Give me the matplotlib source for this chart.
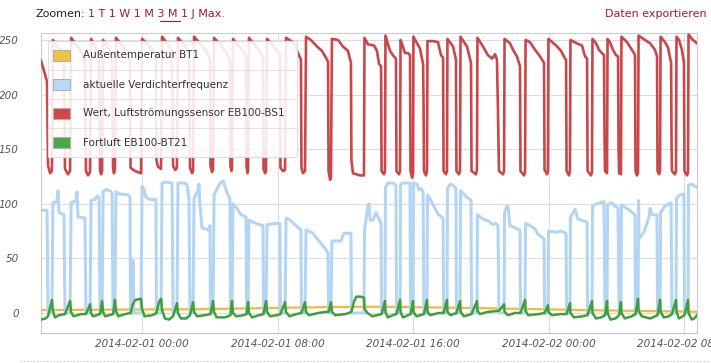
import numpy as np
import matplotlib
matplotlib.use("Agg")
import matplotlib.pyplot as plt
import matplotlib.dates as mdates
from matplotlib.patches import Rectangle
from matplotlib.lines import Line2D

# time axis: hours after 2014-01-31 18:00
START = np.datetime64("2014-01-31T18:00")

labels = ["Außentemperatur BT1", "aktuelle Verdichterfrequenz",
          "Wert, Luftströmungssensor EB100-BS1", "Fortluft EB100-BT21"]
colors = ["#eebc3a", "#b3d5f2", "#c9474a", "#3f9f3f"]
swatch_colors = ["#efc341", "#b9daf6", "#d44646", "#48a848"]

# Außentemperatur (hours, value)
outdoor = [(0.04, 2.7), (9.4, 3.5), (17.1, 5.5), (20.0, 5.8), (26.0, 4.5),
           (31.9, 2.7), (38.76, 1.2)]

# Verdichterfrequenz (hours, value)
compressor = [
    (0.04, 94), (0.39, 94), (0.45, 0), (0.68, 0),
    (0.74, 101), (0.98, 102), (1.04, 112), (1.10, 92), (1.39, 90), (1.45, 0), (1.75, 0),
    (1.81, 101), (2.10, 103), (2.16, 111), (2.22, 88), (2.63, 87), (2.69, 0), (2.93, 0),
    (2.99, 103), (3.22, 104), (3.34, 107), (3.46, 106), (3.52, 0), (3.64, 0),
    (3.70, 111), (3.87, 113), (4.10, 112), (4.23, 110), (4.29, 0), (4.40, 0),
    (4.46, 111), (4.64, 109), (4.76, 109), (5.17, 108), (5.29, 106), (5.32, 0), (5.44, 0),
    (5.47, 48), (5.50, 0), (5.94, 0),
    (6.00, 116), (6.12, 113), (6.23, 106), (6.47, 104), (6.82, 104), (6.85, 0), (7.12, 0),
    (7.18, 119), (7.41, 120), (7.77, 119), (7.83, 0), (8.06, 0),
    (8.12, 119), (8.48, 119), (8.65, 118), (8.77, 105), (8.83, 0), (9.01, 0),
    (9.07, 105), (9.30, 112), (9.36, 118), (9.42, 98), (9.54, 78), (9.95, 76), (10.01, 80),
    (10.04, 0), (10.19, 0),
    (10.25, 108), (10.60, 119), (10.78, 121), (11.02, 110), (11.19, 105), (11.22, 0), (11.31, 0),
    (11.37, 100), (11.60, 96), (11.84, 90), (12.14, 88), (12.17, 0), (12.26, 0),
    (12.31, 85), (12.73, 82), (13.14, 80), (13.17, 0), (13.32, 0),
    (13.38, 81), (13.91, 82), (14.14, 82), (14.17, 0), (14.44, 0),
    (14.50, 87), (14.67, 86), (15.09, 80), (15.38, 76), (15.41, 0), (15.62, 0),
    (15.68, 76), (16.09, 73), (16.44, 66), (16.86, 58), (16.98, 55), (17.01, 0), (17.15, 0),
    (17.21, 66), (17.74, 66), (17.92, 73), (18.33, 73), (18.36, 0), (19.10, 0),
    (19.13, 75), (19.34, 99), (19.40, 100), (19.46, 85), (19.63, 85), (19.81, 92), (19.93, 88),
    (20.11, 82), (20.14, 0), (20.34, 0),
    (20.37, 115), (20.52, 119), (20.81, 119), (20.99, 117), (21.02, 0), (21.23, 0),
    (21.26, 118), (21.40, 119), (21.82, 119), (21.85, 0), (22.00, 0),
    (22.02, 119), (22.23, 118), (22.35, 113), (22.47, 114), (22.59, 111), (22.64, 0), (22.82, 0),
    (22.85, 108), (23.02, 104), (23.32, 95), (23.50, 90), (23.77, 87), (23.80, 0), (24.00, 0),
    (24.03, 114), (24.20, 118), (24.36, 117), (24.53, 114), (24.56, 0), (24.77, 0),
    (24.80, 112), (25.10, 107), (25.42, 103), (25.45, 0), (25.77, 0),
    (25.80, 90), (26.13, 86), (26.48, 84), (26.72, 81), (26.89, 82), (27.01, 80), (27.07, 0), (27.37, 0),
    (27.40, 92), (27.55, 98), (27.61, 97), (27.72, 80), (28.02, 78), (28.31, 76), (28.34, 0), (28.61, 0),
    (28.64, 82), (28.90, 80), (29.20, 77), (29.38, 72), (29.73, 68), (29.76, 0), (29.96, 0),
    (29.99, 75), (30.44, 74), (30.73, 75), (31.03, 73), (31.06, 0), (31.26, 0),
    (31.29, 88), (31.56, 95), (31.73, 86), (32.15, 84), (32.27, 83), (32.30, 0), (32.56, 0),
    (32.59, 98), (32.86, 100), (33.27, 102), (33.33, 0), (33.45, 0),
    (33.48, 99), (33.71, 101), (33.92, 98), (34.10, 96), (34.16, 0), (34.27, 0),
    (34.30, 99), (34.69, 95), (35.10, 90), (35.13, 0), (35.28, 0),
    (35.31, 103), (35.34, 68), (35.63, 74), (35.93, 88), (35.99, 96), (36.10, 90), (36.40, 90),
    (36.43, 0), (36.58, 0),
    (36.61, 92), (36.87, 98), (37.23, 101), (37.28, 0), (37.52, 0),
    (37.55, 105), (37.76, 108), (37.99, 109), (38.02, 0), (38.23, 0),
    (38.26, 117), (38.44, 118), (38.76, 115),
]

# Luftströmungssensor (hours, value)
airflow = [
    (0.04, 231), (0.39, 212), (0.45, 135), (0.57, 128), (0.68, 130),
    (0.74, 250), (0.98, 245), (1.28, 238), (1.39, 232), (1.45, 132), (1.63, 127), (1.75, 130),
    (1.81, 252), (2.10, 246), (2.46, 238), (2.63, 233), (2.69, 130), (2.81, 126), (2.93, 129),
    (2.99, 251), (3.22, 244), (3.46, 236), (3.52, 131), (3.58, 127), (3.64, 130),
    (3.70, 250), (3.99, 243), (4.23, 236), (4.29, 132), (4.34, 128), (4.40, 131),
    (4.46, 252), (4.82, 245), (5.17, 238), (5.29, 230), (5.32, 133), (5.58, 130), (5.94, 128),
    (6.00, 251), (6.35, 246), (6.65, 240), (6.82, 236), (6.85, 140), (6.94, 134), (7.12, 132),
    (7.18, 253), (7.47, 247), (7.77, 240), (7.83, 135), (7.95, 131), (8.06, 133),
    (8.12, 252), (8.48, 246), (8.77, 238), (8.83, 133), (8.95, 128), (9.01, 130),
    (9.07, 253), (9.42, 247), (9.78, 240), (10.01, 232), (10.04, 135), (10.13, 129), (10.19, 131),
    (10.25, 252), (10.60, 246), (10.96, 239), (11.19, 232), (11.22, 134), (11.28, 130), (11.31, 132),
    (11.37, 251), (11.78, 243), (12.14, 236), (12.17, 134), (12.23, 128), (12.26, 131),
    (12.31, 252), (12.73, 244), (13.14, 235), (13.17, 132), (13.26, 128), (13.32, 130),
    (13.38, 251), (13.79, 244), (14.14, 236), (14.17, 133), (14.32, 130), (14.44, 131),
    (14.50, 252), (14.91, 248), (15.15, 240), (15.32, 234), (15.38, 232), (15.41, 133), (15.50, 128), (15.62, 130),
    (15.68, 253), (15.97, 250), (16.33, 244), (16.62, 240), (16.92, 232), (16.98, 230), (17.01, 130),
    (17.10, 122), (17.15, 124),
    (17.21, 251), (17.57, 250), (17.86, 244), (18.16, 240), (18.28, 232), (18.33, 230), (18.36, 140),
    (18.45, 128), (18.87, 126), (19.10, 126),
    (19.13, 252), (19.34, 246), (19.69, 245), (19.87, 240), (19.99, 228), (20.11, 226), (20.14, 130),
    (20.28, 127), (20.34, 130),
    (20.37, 254), (20.52, 246), (20.64, 240), (20.81, 236), (20.99, 233), (21.02, 130), (21.17, 127), (21.23, 130),
    (21.26, 250), (21.40, 244), (21.52, 238), (21.70, 238), (21.82, 236), (21.85, 130), (21.94, 124), (22.00, 128),
    (22.02, 253), (22.23, 247), (22.41, 242), (22.59, 228), (22.62, 189), (22.64, 130), (22.76, 126), (22.82, 130),
    (22.85, 249), (23.18, 249), (23.47, 248), (23.65, 236), (23.77, 234), (23.80, 130), (23.94, 127), (24.00, 130),
    (24.03, 251), (24.36, 244), (24.53, 232), (24.56, 130), (24.71, 127), (24.77, 130),
    (24.80, 253), (25.18, 244), (25.42, 229), (25.45, 130), (25.71, 127), (25.77, 131),
    (25.80, 252), (26.13, 244), (26.42, 236), (26.66, 233), (26.84, 237), (26.95, 232), (27.01, 186),
    (27.07, 130), (27.31, 127), (27.37, 130),
    (27.40, 251), (27.72, 247), (27.90, 241), (28.13, 235), (28.31, 226), (28.34, 130), (28.55, 126), (28.61, 129),
    (28.64, 250), (28.90, 248), (29.20, 241), (29.49, 235), (29.73, 229), (29.76, 131), (29.91, 127), (29.96, 130),
    (29.99, 251), (30.44, 245), (30.73, 240), (30.97, 233), (31.03, 232), (31.06, 130), (31.20, 126), (31.26, 130),
    (31.29, 250), (31.79, 246), (31.97, 245), (32.15, 235), (32.27, 233), (32.30, 130), (32.50, 126), (32.56, 129),
    (32.59, 251), (32.80, 247), (32.97, 241), (33.15, 238), (33.27, 236), (33.30, 162), (33.33, 130), (33.45, 128),
    (33.48, 251), (33.62, 248), (33.80, 241), (33.98, 236), (34.10, 235), (34.13, 150), (34.16, 128), (34.27, 127),
    (34.30, 253), (34.63, 248), (34.92, 241), (35.04, 238), (35.10, 236), (35.13, 130), (35.22, 126), (35.28, 129),
    (35.31, 254), (35.69, 250), (35.99, 247), (36.28, 241), (36.40, 235), (36.43, 130), (36.52, 127), (36.58, 130),
    (36.61, 253), (36.87, 248), (37.05, 243), (37.23, 229), (37.26, 150), (37.28, 130), (37.46, 127), (37.52, 130),
    (37.55, 253), (37.70, 250), (37.87, 241), (37.99, 229), (38.02, 130), (38.17, 126), (38.23, 129),
    (38.26, 255), (38.52, 250), (38.76, 247),
]

# Fortluft (hours, value)
exhaust = [
    (0.04, -6), (0.30, -5), (0.45, -3), (0.68, 12), (0.74, 2), (0.86, -4), (1.10, -2), (1.45, -1),
    (1.75, 11), (1.81, 1), (1.95, -3), (2.40, -1), (2.69, -1),
    (2.93, 8), (2.99, 0), (3.10, -3), (3.52, -1),
    (3.64, 11), (3.70, 1), (3.82, -3), (4.29, -1),
    (4.40, 12), (4.46, 2), (4.60, -3), (5.00, -1), (5.32, 0),
    (5.45, 8), (5.60, 12), (5.94, 13), (6.00, 4), (6.15, -3), (6.60, -2), (6.85, 0),
    (7.00, 10), (7.12, 13), (7.18, 3), (7.35, -5), (7.60, -6), (7.83, -3),
    (8.06, 9), (8.12, 0), (8.30, -5), (8.60, -5), (8.83, -2),
    (9.01, 10), (9.07, 1), (9.25, -3), (9.70, -2), (10.04, -1),
    (10.19, 11), (10.25, 1), (10.40, -4), (10.90, -4), (11.22, -2),
    (11.31, 11), (11.37, 0), (11.55, -3), (12.00, -2), (12.17, -1),
    (12.26, 10), (12.31, 0), (12.50, -4), (12.90, -2), (13.17, -1),
    (13.32, 11), (13.38, 1), (13.55, -3), (13.95, -2), (14.17, -1),
    (14.44, 10), (14.50, 1), (14.70, -3), (15.10, -1), (15.41, 0),
    (15.62, 10), (15.68, 1), (15.85, -2), (16.40, 0), (16.80, 1), (17.01, 1),
    (17.15, 10), (17.21, 1), (17.40, -2), (18.00, -1), (18.36, 1),
    (18.50, 10), (18.65, 15), (18.90, 15), (19.10, 14), (19.13, 4), (19.30, 0), (19.60, -3), (20.14, -1),
    (20.34, 11), (20.37, 1), (20.50, -4), (20.80, -2), (21.02, -1),
    (21.23, 12), (21.26, 1), (21.40, -4), (21.85, -1),
    (22.00, 11), (22.02, 1), (22.20, -3), (22.64, -1),
    (22.82, 12), (22.85, 1), (23.00, -2), (23.50, 0), (23.80, 0),
    (24.00, 12), (24.03, 1), (24.20, -2), (24.56, 0),
    (24.77, 11), (24.80, 1), (25.00, -3), (25.45, -1),
    (25.77, 11), (25.80, 2), (25.95, -1), (26.40, 1), (27.07, 2),
    (27.37, 8), (27.40, 1), (27.60, -2), (28.00, 0), (28.34, 0),
    (28.61, 12), (28.64, 2), (28.80, -2), (29.40, -1), (29.76, 0),
    (29.96, 7), (29.99, 1), (30.20, -2), (30.70, -1), (31.06, -1),
    (31.26, 9), (31.29, 0), (31.50, -4), (32.00, -3), (32.30, -2),
    (32.56, 11), (32.59, 0), (32.80, -5), (33.10, -4), (33.33, -2),
    (33.45, 11), (33.48, 0), (33.65, -6), (33.95, -5), (34.16, -2),
    (34.27, 10), (34.30, 0), (34.50, -5), (34.90, -3), (35.13, -1),
    (35.28, 13), (35.31, 2), (35.50, -3), (36.00, -5), (36.43, -2),
    (36.58, 12), (36.61, 1), (36.80, -4), (37.10, -3), (37.28, -1),
    (37.52, 12), (37.55, 1), (37.70, -5), (38.02, -2),
    (38.23, 12), (38.26, 0), (38.45, -6), (38.60, -5), (38.76, -2),
]

tick_hours = [6, 14, 22, 30, 38]
y_ticks = [0, 50, 100, 150, 200, 250]


def to_time(hours):
    return START + (np.asarray(hours, dtype=float) * 3600).round().astype("timedelta64[s]")


W, H = 711, 363


def fx(x):
    return x / W


def fy(y):
    return 1 - y / H


fig = plt.figure(figsize=(W / 100, H / 100), dpi=100)
fig.patch.set_facecolor("white")
ax = fig.add_axes([fx(41), fy(333), (697 - 41) / W, (333 - 33) / H])

series = [outdoor, compressor, airflow, exhaust]
widths = [1.6, 2.2, 1.9, 1.8]
for i, data in enumerate(series):
    hrs, vals = zip(*data)
    ax.plot(to_time(hrs), vals, color=colors[i], lw=widths[i],
            solid_joinstyle="round", zorder=2 + i)

ax.set_xlim(to_time(0.035), to_time(38.76))
ax.set_ylim(-18.3, 256.4)
ax.set_yticks(y_ticks)
ax.set_xticks(to_time(tick_hours))
ax.xaxis.set_major_formatter(mdates.DateFormatter("%Y-%m-%d %H:%M"))
ax.grid(True, color="#dcdcdc", lw=0.8)
ax.set_axisbelow(True)
ax.tick_params(axis="y", length=0, pad=16, labelsize=7.5, labelcolor="#555555")
ax.tick_params(axis="x", length=0, pad=4, labelsize=7.5, labelcolor="#555555")
for lbl in ax.get_yticklabels() + ax.get_xticklabels():
    lbl.set_fontstyle("italic")
for s in ax.spines.values():
    s.set_color("#cccccc")
    s.set_linewidth(0.8)
ax.spines["bottom"].set_color("#c0c0c0")

# legend box (manual, with row separators)
lx0, lx1, ly0, row_h = 48, 297, 41, 29
fig.add_artist(Rectangle((fx(lx0), fy(ly0 + 4 * row_h)), (lx1 - lx0) / W, 4 * row_h / H,
                         transform=fig.transFigure, facecolor="white", alpha=0.88,
                         edgecolor="none", zorder=10))
fig.add_artist(Rectangle((fx(lx0), fy(ly0 + 4 * row_h)), (lx1 - lx0) / W, 4 * row_h / H,
                         transform=fig.transFigure, facecolor="none",
                         edgecolor="#dddddd", lw=0.8, zorder=11))
for i, lab in enumerate(labels):
    cy = ly0 + row_h * i + row_h / 2
    if i > 0:
        yy = fy(ly0 + row_h * i)
        fig.add_artist(Line2D([fx(lx0), fx(lx1)], [yy, yy], transform=fig.transFigure,
                              color="#e2e2e2", lw=0.8, zorder=11))
    fig.add_artist(Rectangle((fx(53), fy(cy + 5.5)), 17 / W, 11 / H, transform=fig.transFigure,
                             facecolor=swatch_colors[i], edgecolor="#b0b0b0", lw=0.8, zorder=12))
    fig.text(fx(83), fy(cy), lab, fontsize=7.5, color="#333333", va="center", ha="left", zorder=12)

# header
link_red = "#a8182c"
fig.text(fx(35), fy(14), "Zoomen:", fontsize=8, color="#222222", va="center", ha="left")
fig.text(fx(88), fy(14), "1 T 1 W 1 M 3 M 1 J Max.", fontsize=8, color=link_red,
         va="center", ha="left")
fig.add_artist(Line2D([fx(160), fx(180)], [fy(21), fy(21)], transform=fig.transFigure,
                      color=link_red, lw=0.8))
fig.text(fx(707), fy(14), "Daten exportieren", fontsize=8, color=link_red, va="center", ha="right")

# dotted separator at the bottom
fig.add_artist(Line2D([fx(20), fx(711)], [fy(360.5), fy(360.5)], transform=fig.transFigure,
                      color="#bbbbbb", lw=0.8, ls=(0, (1, 2))))

fig.savefig("out.png", dpi=100)
